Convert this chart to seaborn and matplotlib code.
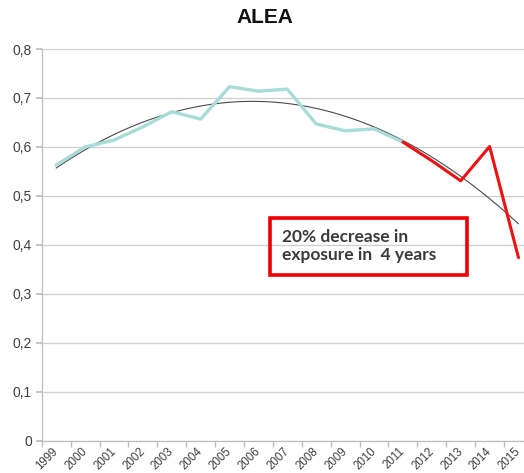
import numpy as np
import pandas as pd
import matplotlib
matplotlib.use('Agg')
import matplotlib.pyplot as plt
import matplotlib.transforms as mtransforms
import seaborn as sns
from matplotlib.patches import Rectangle
from matplotlib.ticker import FuncFormatter, FixedLocator

# values
years_hist = [1999, 2000, 2001, 2002, 2003, 2004, 2005, 2006, 2007, 2008, 2009, 2010, 2011]
exposure_hist = [0.563, 0.600, 0.614, 0.641, 0.672, 0.657, 0.723, 0.714, 0.718, 0.647, 0.633, 0.637, 0.610]
years_recent = [2011, 2012, 2013, 2014, 2015]
exposure_recent = [0.610, 0.572, 0.531, 0.601, 0.374]
all_years = list(range(1999, 2016))
year_labels = [str(y) for y in all_years]

hist = pd.DataFrame({"year": years_hist, "value": exposure_hist})
recent = pd.DataFrame({"year": years_recent, "value": exposure_recent})
full = pd.concat([hist.iloc[:-1], recent], ignore_index=True)

sns.set_theme(style="white")
plt.rcParams['font.family'] = ['Liberation Sans', 'DejaVu Sans']

fig = plt.figure(figsize=(5.24, 4.73), dpi=100)
ax = fig.add_axes([0.0796, 0.0677, 0.9204, 0.8287])

# polynomial trend over the whole series
sns.regplot(data=full, x="year", y="value", order=2, ci=None, scatter=False,
            truncate=True, line_kws={"color": "#4a4a4a", "linewidth": 0.8}, ax=ax)
sns.lineplot(data=hist, x="year", y="value", color="#a8dcd8", linewidth=2.4, ax=ax)
sns.lineplot(data=recent, x="year", y="value", color="#ee1111", linewidth=2.2, ax=ax)

ax.set_xlim(1998.5, 2015.19)
ax.set_ylim(0, 0.8)
ax.set_yticks(np.arange(0, 0.81, 0.1))
ax.yaxis.set_major_formatter(FuncFormatter(lambda v, p: "0" if abs(v) < 1e-9 else f"{v:.1f}".replace(".", ",")))
ax.yaxis.grid(True, color="#cfcfcf", linewidth=0.9)
ax.set_axisbelow(True)

# year labels drawn as texts so they can sit a few pixels left of each category
ax.set_xticks([])
ax.xaxis.set_minor_locator(FixedLocator(np.arange(1998.5, 2016, 1.0)))
ax.tick_params(axis="x", which="minor", length=4, color="#bdbdbd", direction="out", bottom=True)
lbl_trans = mtransforms.blended_transform_factory(ax.transData, ax.transAxes) + \
    mtransforms.ScaledTranslation(-0.04, -0.045, fig.dpi_scale_trans)
for yr, lab in zip(all_years, year_labels):
    ax.text(yr, 0, lab, transform=lbl_trans, rotation=45, ha="right", va="top",
            rotation_mode="anchor", fontsize=8.3, color="#404040", clip_on=False)

ax.tick_params(axis="y", length=4, color="#bdbdbd", labelsize=10, labelcolor="#404040", pad=3)
ax.yaxis.set_tick_params(left=True)

for side in ["top", "right"]:
    ax.spines[side].set_visible(False)
for side in ["left", "bottom"]:
    ax.spines[side].set_color("#bdbdbd")
    ax.spines[side].set_linewidth(0.9)

ax.set_xlabel("")
ax.set_ylabel("")

fig.text(0.506, 0.964, "ALEA", ha="center", va="center", fontsize=15,
         fontweight="bold", color="#111111")

# annotation box
W, H = 524, 473
box = Rectangle((270 / W, 1 - 275 / H), (467 - 270) / W, (275 - 218) / H,
                transform=fig.transFigure, fill=False, edgecolor="#ee0000", linewidth=2.6)
fig.add_artist(box)
fig.text(282 / W, 1 - 246 / H, "20% decrease in\nexposure in  4 years", ha="left", va="center",
         fontsize=12.5, fontweight="bold", color="#3a3a3a", family=["Lato", "DejaVu Sans"],
         linespacing=1.15)

fig.savefig("out.png", dpi=100)
